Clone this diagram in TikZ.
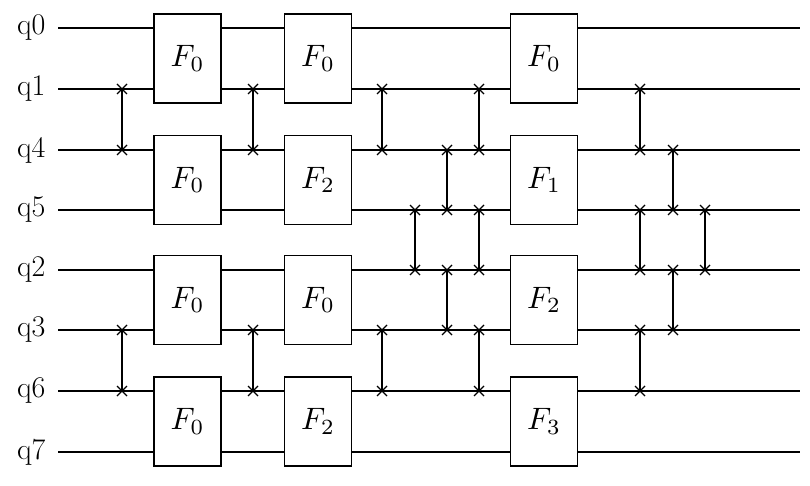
\documentclass[tikz,border=0pt]{standalone}
\usepackage{graphicx}
\begin{document}
\tikzset{gate/.style={draw,line width=1.3pt,fill=white,minimum width=67pt,minimum height=89pt,inner sep=0pt},
  wirelab/.style={anchor=east,inner sep=0pt,font=\fontsize{30}{30}\selectfont}}
\newcommand{\swapx}[3]{% x, top wire, bottom wire
  \draw (#1,#2) -- (#1,#3);
  \foreach \yy in {#2,#3}
    \draw (#1-5,\yy-5) -- (#1+5,\yy+5) (#1-5,\yy+5) -- (#1+5,\yy-5);}
\newcommand{\fgate}[1]{\scalebox{3.1}{$F_{#1}$}}
\begin{tikzpicture}[x=1pt,y=-1pt,line width=1.3pt]
  \useasboundingbox (0,0) rectangle (810,486);
  % wires
  \foreach \name/\yw in {q0/28,q1/89,q4/150,q5/210,q2/270,q3/330,q6/391,q7/452} {
    \node[wirelab] (\name) at (46,\yw) {\name};
    \draw (58,\yw) -- (800,\yw);
  }
  % swaps
  \swapx{122}{89}{150} \swapx{122}{330}{391}
  \swapx{253}{89}{150} \swapx{253}{330}{391}
  \swapx{382}{89}{150} \swapx{382}{330}{391}
  \swapx{415}{210}{270}
  \swapx{447}{150}{210} \swapx{447}{270}{330}
  \swapx{479}{89}{150} \swapx{479}{210}{270} \swapx{479}{330}{391}
  \swapx{640}{89}{150} \swapx{640}{210}{270} \swapx{640}{330}{391}
  \swapx{673}{150}{210} \swapx{673}{270}{330}
  \swapx{705}{210}{270}
  % gates
  \foreach \xg/\a/\b/\c/\d [count=\k] in {187.5/0/0/0/0,318/0/2/0/2,544/0/1/2/3} {
    \node[gate] (g\k a) at (\xg,58.5) {\fgate{\a}};
    \node[gate] (g\k b) at (\xg,180) {\fgate{\b}};
    \node[gate] (g\k c) at (\xg,300) {\fgate{\c}};
    \node[gate] (g\k d) at (\xg,421.5) {\fgate{\d}};
  }
\end{tikzpicture}
\end{document}
